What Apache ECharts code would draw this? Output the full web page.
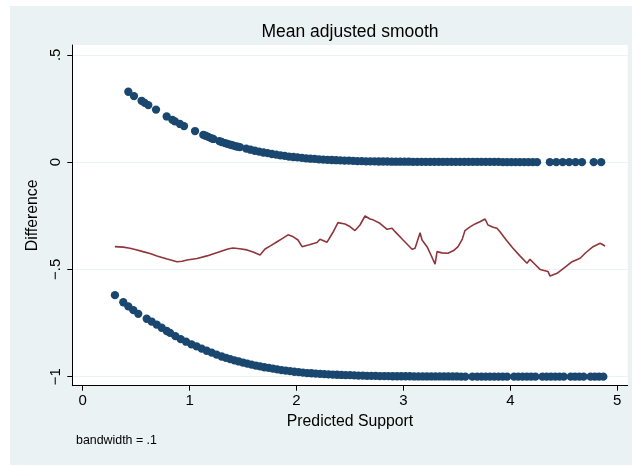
<!DOCTYPE html>
<html>
<head>
<meta charset="utf-8">
<script src="https://cdn.jsdelivr.net/npm/echarts@6/dist/echarts.min.js"></script>
<style>
html,body{margin:0;padding:0;background:#fff;}
#bg{position:absolute;left:10px;top:6px;width:622px;height:459px;background:#eaf2f3;}
#chart{position:absolute;left:0;top:0;width:632px;height:466px;}
</style>
</head>
<body>
<div id="bg"></div>
<div id="chart"></div>
<script>
// ---- tick values / labels ----
var xTickValues = [0, 1, 2, 3, 4, 5];
var xTickLabels = ['0', '1', '2', '3', '4', '5'];
var yTickValues = [-1, -0.5, 0, 0.5];
var yTickLabels = ['\u22121', '\u2212.5', '0', '.5'];

// ---- upper band (observed = 1) ----
var upperX = [0.427, 0.48, 0.551, 0.58, 0.614, 0.686, 0.786, 0.84, 0.863, 0.91, 0.948, 1.051, 1.128, 1.15, 1.175, 1.2, 1.222, 1.278, 1.30, 1.331, 1.355, 1.378, 1.40, 1.425, 1.45, 1.471,
  1.53, 1.57, 1.61, 1.65, 1.69, 1.73, 1.77, 1.81, 1.85, 1.89, 1.93, 1.97, 2.01, 2.05, 2.09, 2.13, 2.17, 2.21, 2.25, 2.29, 2.33, 2.37, 2.41, 2.45, 2.49,
  2.53, 2.57, 2.61, 2.65, 2.69, 2.73, 2.77, 2.81, 2.85, 2.89, 2.93, 2.97, 3.01, 3.05, 3.09, 3.13, 3.17, 3.21, 3.25, 3.29, 3.33, 3.37, 3.41, 3.45, 3.49,
  3.53, 3.57, 3.61, 3.65, 3.69, 3.73, 3.77, 3.81, 3.85, 3.89, 3.93, 3.97, 4.01, 4.05, 4.09, 4.13, 4.17, 4.21, 4.25,
  4.37, 4.43, 4.49, 4.55, 4.61, 4.67, 4.78, 4.85];
var upperY = [0.328, 0.308, 0.286, 0.276, 0.266, 0.245, 0.213, 0.197, 0.190, 0.178, 0.168, 0.145, 0.127, 0.123, 0.118, 0.112, 0.108, 0.098, 0.094, 0.089, 0.085, 0.082, 0.079, 0.075, 0.072, 0.070,
  0.063, 0.058, 0.053, 0.049, 0.045, 0.042, 0.038, 0.035, 0.032, 0.029, 0.026, 0.024, 0.022, 0.020, 0.018, 0.016, 0.015, 0.013, 0.012, 0.011, 0.010, 0.009, 0.008, 0.007, 0.007,
  0.006, 0.005, 0.005, 0.004, 0.004, 0.004, 0.003, 0.003, 0.003, 0.002, 0.002, 0.002, 0.002, 0.002, 0.001, 0.001, 0.001, 0.001, 0.001, 0.001, 0.001, 0.001, 0.001, 0.001, 0.001,
  0.001, 0.001, 0.001, 0.001, 0.001, 0.001, 0.001, 0.001, 0.001, 0.001, 0.000, 0.000, 0.000, 0.000, 0.000, 0.000, 0.000, 0.000, 0.000,
  0.000, 0.000, 0.000, 0.000, 0.000, 0.000, 0.000, 0.000];

// ---- lower band (observed = 0) ----
var lowerX = [0.302, 0.380, 0.427, 0.474, 0.520, 0.599, 0.645, 0.692, 0.739, 0.786, 0.817, 0.867, 0.917, 0.967, 1.017, 1.066, 1.113, 1.16, 1.207, 1.253, 1.30,
  1.34, 1.38, 1.42, 1.46, 1.50, 1.54, 1.58, 1.62, 1.66, 1.70, 1.74, 1.78, 1.82, 1.86, 1.90, 1.94, 1.98, 2.02, 2.06, 2.10, 2.14, 2.18, 2.22, 2.26, 2.30,
  2.34, 2.38, 2.42, 2.46, 2.50, 2.54, 2.58, 2.62, 2.66, 2.70, 2.74, 2.78, 2.82, 2.86, 2.90, 2.94, 2.98, 3.02, 3.06, 3.10, 3.14, 3.18, 3.22, 3.26, 3.30,
  3.34, 3.38, 3.42, 3.46, 3.50,
  3.54, 3.58, 3.645, 3.69, 3.73, 3.77, 3.81, 3.85, 3.89, 3.93, 3.97, 4.035, 4.075, 4.115, 4.155, 4.195, 4.235, 4.30, 4.34, 4.38, 4.42, 4.46, 4.50,
  4.565, 4.605, 4.645, 4.685, 4.75, 4.79, 4.83, 4.87];
var lowerY = [-0.620, -0.653, -0.672, -0.690, -0.707, -0.730, -0.743, -0.757, -0.772, -0.787, -0.796, -0.811, -0.825, -0.837, -0.849, -0.859, -0.869, -0.879, -0.888, -0.897, -0.906,
  -0.912, -0.918, -0.924, -0.929, -0.934, -0.939, -0.944, -0.948, -0.952, -0.956, -0.959, -0.962, -0.966, -0.969, -0.972, -0.974, -0.977, -0.979, -0.981, -0.983, -0.984, -0.986, -0.987, -0.988, -0.989,
  -0.990, -0.991, -0.992, -0.993, -0.993, -0.994, -0.995, -0.995, -0.996, -0.996, -0.996, -0.997, -0.997, -0.997, -0.998, -0.998, -0.998, -0.998, -0.998, -0.999, -0.999, -0.999, -0.999, -0.999, -0.999,
  -0.999, -0.999, -0.999, -0.999, -0.999,
  -1.000, -1.000, -1.000, -1.000, -1.000, -1.000, -1.000, -1.000, -1.000, -1.000, -1.000, -1.000, -1.000, -1.000, -1.000, -1.000, -1.000, -1.000, -1.000, -1.000, -1.000, -1.000, -1.000,
  -1.000, -1.000, -1.000, -1.000, -1.000, -1.000, -1.000, -1.000];

// ---- lowess smooth (bandwidth = .1) ----
var smoothX = [0.302, 0.38, 0.442, 0.50, 0.564, 0.63, 0.695, 0.79, 0.882, 0.93, 0.976, 1.07, 1.163, 1.26, 1.359, 1.406, 1.47, 1.537, 1.60, 1.659, 1.706, 1.76, 1.818, 1.87, 1.921,
  1.97, 2.014, 2.052, 2.12, 2.192, 2.220, 2.286, 2.34, 2.388, 2.454, 2.50, 2.547, 2.594, 2.641, 2.688, 2.716, 2.78, 2.847, 2.894, 2.922, 2.997, 3.04, 3.081, 3.109,
  3.156, 3.174, 3.221, 3.26, 3.296, 3.315, 3.36, 3.417, 3.47, 3.511, 3.55, 3.576, 3.62, 3.670, 3.72, 3.764, 3.791, 3.84, 3.875, 3.903, 3.96, 4.025,
  4.09, 4.156, 4.184, 4.23, 4.278, 4.353, 4.372, 4.437, 4.51, 4.578, 4.653, 4.71, 4.774, 4.840, 4.886];
var smoothY = [-0.394, -0.396, -0.401, -0.408, -0.417, -0.426, -0.437, -0.451, -0.464, -0.462, -0.456, -0.449, -0.437, -0.421, -0.405, -0.400, -0.404, -0.409, -0.420, -0.433, -0.405, -0.389, -0.371, -0.355, -0.339,
  -0.348, -0.363, -0.394, -0.385, -0.375, -0.359, -0.373, -0.328, -0.282, -0.288, -0.300, -0.319, -0.293, -0.251, -0.265, -0.269, -0.285, -0.313, -0.308, -0.324, -0.363, -0.385, -0.406, -0.401,
  -0.329, -0.363, -0.394, -0.435, -0.475, -0.417, -0.423, -0.425, -0.412, -0.394, -0.360, -0.319, -0.303, -0.288, -0.277, -0.265, -0.293, -0.303, -0.308, -0.324, -0.362, -0.401,
  -0.437, -0.471, -0.453, -0.476, -0.500, -0.510, -0.531, -0.518, -0.490, -0.464, -0.448, -0.420, -0.394, -0.378, -0.391];

function zip(xs, ys) { return xs.map(function (x, i) { return [x, ys[i]]; }); }

var FONT = '"Liberation Sans", Arial, Helvetica, sans-serif';
var chart = echarts.init(document.getElementById('chart'), null, { renderer: 'canvas' });
chart.setOption({
  animation: false,
  backgroundColor: 'transparent',
  grid: { left: 72.3, right: 4.3, top: 45, bottom: 80.3, show: true, backgroundColor: '#ffffff', borderWidth: 0 },
  xAxis: {
    type: 'value', min: -0.097, max: 5.098,
    axisLine: { show: true, onZero: false, lineStyle: { color: '#000', width: 1 } },
    axisTick: { show: true, length: 5, customValues: xTickValues, lineStyle: { color: '#000', width: 1 } },
    axisLabel: { customValues: xTickValues, margin: 8, color: '#000', fontSize: 15, fontFamily: FONT,
      formatter: function (v) { var i = xTickValues.indexOf(v); return i >= 0 ? xTickLabels[i] : ''; } },
    splitLine: { show: false },
    name: 'Predicted Support', nameLocation: 'middle', nameGap: 25,
    nameTextStyle: { color: '#000', fontSize: 15.8, fontFamily: FONT }
  },
  yAxis: {
    type: 'value', min: -1.042, max: 0.546,
    axisLine: { show: true, onZero: false, lineStyle: { color: '#000', width: 1 } },
    axisTick: { show: true, length: 5, customValues: yTickValues, lineStyle: { color: '#000', width: 1 } },
    axisLabel: { customValues: yTickValues, rotate: 90, margin: 9, color: '#000', fontSize: 15, fontFamily: FONT,
      formatter: function (v) { for (var i = 0; i < yTickValues.length; i++) { if (Math.abs(yTickValues[i] - v) < 1e-9) return yTickLabels[i]; } return ''; } },
    splitLine: { show: true, lineStyle: { color: '#eaf2f3', width: 1 } },
    name: 'Difference', nameLocation: 'middle', nameGap: 29,
    nameTextStyle: { color: '#000', fontSize: 15.8, fontFamily: FONT }
  },
  graphic: [
    { type: 'text', x: 350, y: 32, style: { text: 'Mean adjusted smooth', fill: '#000', font: '17.5px ' + FONT, align: 'center', verticalAlign: 'middle' } },
    { type: 'text', x: 76, y: 441, style: { text: 'bandwidth = .1', fill: '#000', font: '12.4px ' + FONT, align: 'left', verticalAlign: 'middle' } }
  ],
  series: [
    { type: 'scatter', data: zip(upperX, upperY), symbolSize: 8.3, itemStyle: { color: '#1a476f', opacity: 1 }, z: 2, silent: true },
    { type: 'scatter', data: zip(lowerX, lowerY), symbolSize: 8.3, itemStyle: { color: '#1a476f', opacity: 1 }, z: 2, silent: true },
    { type: 'line', data: zip(smoothX, smoothY), showSymbol: false, symbol: 'none', lineStyle: { color: '#90353b', width: 1.6 }, z: 3, silent: true }
  ]
});
</script>
</body>
</html>
